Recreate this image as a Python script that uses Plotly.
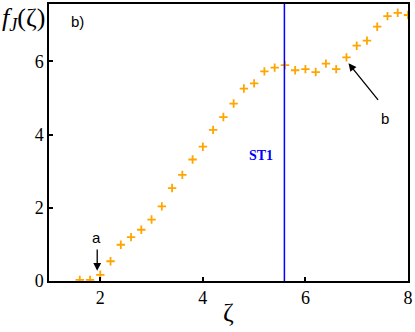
import plotly.graph_objects as go

# zeta values and f_J(zeta)
zeta = [1.6, 1.8, 2.0, 2.2, 2.4, 2.6, 2.8, 3.0, 3.2, 3.4, 3.6, 3.8, 4.0, 4.2, 4.4, 4.6, 4.8,
        5.0, 5.2, 5.4, 5.6, 5.8, 6.0, 6.2, 6.4, 6.6, 6.8, 7.0, 7.2, 7.4, 7.6, 7.8, 8.0]
fj = [0.03, 0.03, 0.17, 0.54, 0.99, 1.20, 1.40, 1.68, 2.04, 2.54, 2.90, 3.32, 3.67, 4.13, 4.48, 4.85, 5.26,
      5.40, 5.73, 5.83, 5.90, 5.76, 5.79, 5.71, 5.94, 5.79, 6.11, 6.43, 6.57, 6.95, 7.24, 7.33, 7.27]
st1_x = 5.59
x_ticks = [2, 4, 6, 8]
y_ticks = [0, 2, 4, 6]

serif = "Liberation Serif"
sans = "Liberation Sans"

fig = go.Figure()
fig.add_trace(go.Scatter(x=zeta, y=fj, mode="markers",
                         marker=dict(symbol="cross-thin", size=6,
                                     line=dict(width=1.8, color="#FFA500")),
                         cliponaxis=True, showlegend=False))
fig.add_trace(go.Scatter(x=[st1_x, st1_x], y=[0, 7.6], mode="lines",
                         line=dict(color="#0000FF", width=1.5), showlegend=False))

# ST1 label
fig.add_annotation(x=5.14, y=3.42, text="<b>ST1</b>", showarrow=False,
                   font=dict(family=serif, size=14, color="#0000FF"))
# panel tag
fig.add_annotation(x=1.55, y=7.1, text="b)", showarrow=False,
                   font=dict(family=sans, size=15, color="black"))
# arrow a
fig.add_annotation(x=1.94, y=0.28, ax=1.94, ay=0.9, axref="x", ayref="y",
                   text="", showarrow=True, arrowhead=2, arrowsize=1.2,
                   arrowwidth=1.3, arrowcolor="black")
fig.add_annotation(x=1.92, y=1.2, text="a", showarrow=False,
                   font=dict(family=sans, size=15, color="black"))
# arrow b
fig.add_annotation(x=6.84, y=5.95, ax=7.44, ay=4.91, axref="x", ayref="y",
                   text="", showarrow=True, arrowhead=2, arrowsize=1.2,
                   arrowwidth=1.3, arrowcolor="black")
fig.add_annotation(x=7.55, y=4.45, text="b", showarrow=False,
                   font=dict(family=sans, size=15, color="black"))

# axis titles
fig.add_annotation(xref="paper", yref="paper", x=-0.005, y=1.01, xanchor="right", yanchor="top",
                   text="<i>f</i><sub><i>J</i></sub>(ζ)", showarrow=False,
                   font=dict(family=serif, size=26, color="black"))
fig.add_annotation(xref="paper", yref="paper", x=0.5, y=-0.115, xanchor="center", yanchor="middle",
                   text="ζ", showarrow=False,
                   font=dict(family=serif, size=26, color="black"))

fig.update_xaxes(range=[1, 8], tickvals=x_ticks, ticks="inside", ticklen=4, tickwidth=1.5,
                 tickcolor="black", showline=True, linecolor="black", linewidth=1.5,
                 mirror=True, showgrid=False, zeroline=False,
                 tickfont=dict(family=serif, size=18, color="black"))
fig.update_yaxes(range=[0, 7.57], tickvals=y_ticks, ticks="inside", ticklen=4, tickwidth=1.5,
                 tickcolor="black", showline=True, linecolor="black", linewidth=1.5,
                 mirror=True, showgrid=False, zeroline=False,
                 tickfont=dict(family=serif, size=18, color="black"))

fig.update_layout(width=415, height=332, margin=dict(l=49, r=5, t=2, b=51),
                  plot_bgcolor="white", paper_bgcolor="white")
fig.write_html("out.html", config={"displayModeBar": False},
               post_script="document.body.style.margin='0';")
